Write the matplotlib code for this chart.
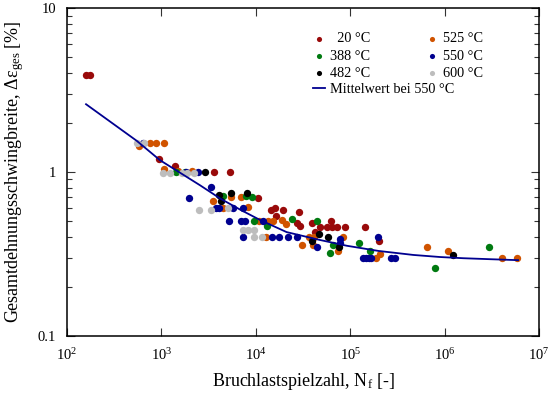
import matplotlib

matplotlib.use("Agg")
import matplotlib.pyplot as plt
from matplotlib.ticker import LogLocator, NullLocator, NullFormatter

plt.rcParams["font.family"] = ["Liberation Serif", "DejaVu Serif"]
plt.rcParams["mathtext.fontset"] = "custom"
plt.rcParams["mathtext.rm"] = "Liberation Serif"
plt.rcParams["mathtext.it"] = "Liberation Serif:italic"

# Versuchsdaten
n_20 = [158, 177, 951, 1390, 3580, 5330, 10600, 14400, 16000, 19500, 16400, 28400,
        27100, 29400, 39100, 62100, 47900, 56400, 64700, 73000, 88100, 42400,
        144000, 202000]
e_20 = [3.9, 3.9, 1.2, 1.09, 1.0, 1.0, 0.69, 0.59, 0.6, 0.59, 0.54, 0.57,
        0.49, 0.47, 0.49, 0.5, 0.46, 0.46, 0.46, 0.46, 0.46, 0.43,
        0.46, 0.38]

n_525 = [584, 757, 877, 1075, 1075, 1510, 2090, 3550, 5420, 6920, 4530, 8320,
         10900, 13400, 12700, 15300, 18800, 20700, 36900, 41400, 84500, 74900,
         40100, 30600, 188000, 207000, 656000, 1080000, 4030000, 5850000]
e_525 = [1.45, 1.5, 1.5, 1.5, 1.04, 1.02, 1.02, 0.665, 0.70, 0.70, 0.6, 0.61,
         0.5, 0.5, 0.4, 0.5, 0.51, 0.48, 0.40, 0.40, 0.40, 0.33,
         0.36, 0.36, 0.30, 0.315, 0.35, 0.33, 0.30, 0.30]

n_388 = [1430, 1780, 4530, 7870, 9050, 9550, 13000, 24000, 44900, 61100, 66200,
         124000, 163000, 785000, 2980000]
e_388 = [1.0, 1.0, 0.71, 0.71, 0.70, 0.5, 0.47, 0.52, 0.505, 0.32, 0.36,
         0.37, 0.33, 0.26, 0.35]

n_550 = [643, 1820, 2460, 3330, 1950, 3790, 4040, 5780, 7310, 5160, 6920, 7740,
         12000, 7310, 14700, 17500, 21900, 27500, 78000, 78000, 44200,
         138000, 147000, 157000, 166000, 195000, 269000, 298000]
e_550 = [1.5, 1.0, 1.0, 0.81, 0.69, 0.6, 0.6, 0.6, 0.6, 0.5, 0.5, 0.5,
         0.5, 0.4, 0.4, 0.4, 0.4, 0.4, 0.39, 0.37, 0.35,
         0.30, 0.30, 0.30, 0.30, 0.40, 0.30, 0.30]

n_482 = [2920, 4050, 4250, 5500, 8130, 46800, 58500, 39800, 76700, 1220000]
e_482 = [1.0, 0.72, 0.67, 0.74, 0.74, 0.42, 0.40, 0.38, 0.35, 0.31]

n_600 = [547, 660, 1050, 1230, 1640, 1850, 2210, 2480, 3320, 5070, 7260, 8260,
         9550, 9550, 11700]
e_600 = [1.5, 1.5, 0.98, 0.99, 0.99, 0.99, 0.99, 0.59, 0.59, 0.6, 0.44, 0.44,
         0.44, 0.4, 0.4]

# Mittelwertkurve 550 °C
n_mean = [159, 547, 966, 1574, 2565, 4180, 6810, 11070, 21200, 47800, 92000,
          200000, 467000, 900000, 1580000, 3000000, 6000000]
e_mean = [2.59, 1.55, 1.18, 0.99, 0.83, 0.69, 0.59, 0.51, 0.43, 0.385, 0.355,
          0.33, 0.312, 0.303, 0.298, 0.294, 0.29]

series = [
    (n_20, e_20, "#990a0a", "  20 °C"),
    (n_525, e_525, "#d05300", "525 °C"),
    (n_388, e_388, "#007a10", "388 °C"),
    (n_550, e_550, "#00008f", "550 °C"),
    (n_482, e_482, "#000000", "482 °C"),
    (n_600, e_600, "#bdbdbd", "600 °C"),
]

fig = plt.figure(figsize=(5.48, 3.98), dpi=100)
ax = fig.add_axes([0.1223, 0.1558, 0.8613, 0.8241])

handles = {}
for n, e, col, lab in series:
    handles[lab] = ax.scatter(n, e, s=28, color=col, linewidths=0, label=lab, zorder=3)

mean_line, = ax.plot(n_mean, e_mean, color="#000090", lw=1.3, zorder=4,
                     label="Mittelwert bei 550 °C")

ax.set_xscale("log")
ax.set_yscale("log")
ax.set_xlim(1e2, 1e7)
ax.set_ylim(0.1, 10)

ax.xaxis.set_minor_locator(NullLocator())
ax.yaxis.set_minor_locator(LogLocator(base=10, subs=range(2, 10)))
ax.yaxis.set_minor_formatter(NullFormatter())
ax.set_yticks([0.1, 1, 10])
ax.set_yticklabels(["0.1", "1", "10"])

ax.tick_params(which="both", direction="in", top=True, right=True,
               labelsize=10.5, width=0.8, color="#333333")
ax.tick_params(which="major", length=6, pad=8)
ax.tick_params(which="minor", length=3.5)
for sp in ax.spines.values():
    sp.set_linewidth(1.1)

ax.set_xlabel(r"Bruchlastspielzahl, $\mathrm{N}_{\mathrm{f}}$ [-]", fontsize=13, labelpad=6)
ax.set_ylabel(r"Gesamtdehnungsschwingbreite, Δ$\mathrm{ε}_{\mathrm{ges}}$ [%]",
              fontsize=13, labelpad=8)

order = ["  20 °C", "388 °C", "482 °C", "525 °C", "550 °C", "600 °C"]
leg1 = ax.legend([handles[k] for k in order], order, ncol=2, loc="upper left",
                 bbox_to_anchor=(0.521, 0.926), frameon=False, fontsize=10.3,
                 handlelength=0.85, handletextpad=0.35, columnspacing=3.9,
                 labelspacing=0.31, borderpad=0, borderaxespad=0, markerscale=0.7)
ax.add_artist(leg1)
ax.legend([mean_line], [mean_line.get_label()], loc="upper left",
          bbox_to_anchor=(0.521, 0.772), frameon=False, fontsize=10.3,
          handlelength=0.85, handletextpad=0.35, borderpad=0, borderaxespad=0)

fig.savefig("out.png", dpi=100)
